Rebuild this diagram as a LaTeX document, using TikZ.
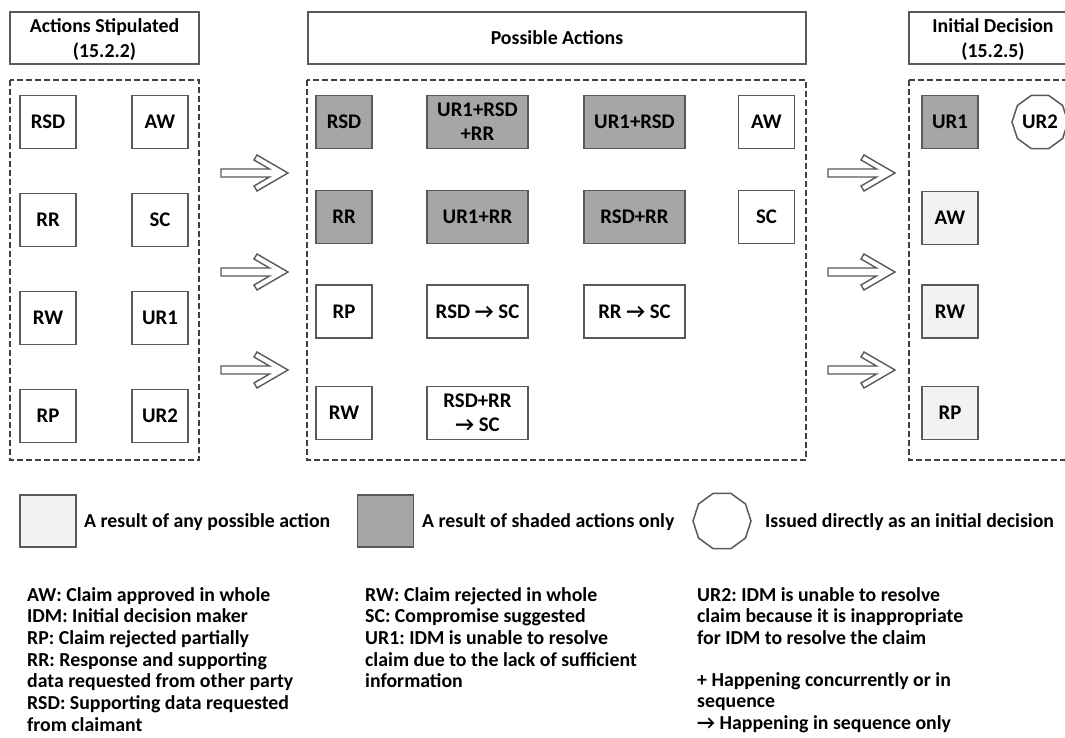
\documentclass[tikz,border=0pt]{standalone}
\usepackage{fontspec}
\setmainfont{Carlito}
\frenchspacing
\usetikzlibrary{shapes.geometric}
\definecolor{edge}{HTML}{595959}
\definecolor{dashc}{HTML}{404040}
\definecolor{shade}{HTML}{A6A6A6}
\definecolor{pale}{HTML}{F2F2F2}
\tikzset{
  lbl/.style={font=\fontsize{20.8}{24}\selectfont\bfseries, align=center, text=black},
  box/.style={lbl, draw=edge, line width=1.5pt, fill=white, minimum width=56pt, minimum height=53pt, inner sep=0pt},
  widebox/.style={box, minimum width=101pt},
  shaded/.style={fill=shade},
  palebox/.style={fill=pale},
  deca/.style={lbl, regular polygon, regular polygon sides=10, draw=edge, line width=1.5pt, fill=white, inner sep=0pt},
  header/.style={lbl, font=\fontsize{19.8}{24.5}\selectfont\bfseries, draw=edge, line width=1.5pt, minimum height=52pt, inner sep=0pt},
  frame/.style={draw=dashc, line width=2pt, dash pattern=on 6pt off 3pt},
  defn/.style={font=\fontsize{19.8}{21.7}\selectfont\bfseries, anchor=base west, inner sep=0pt},
  arrowbody/.style={draw=edge, line width=1.4pt, fill=white, line join=miter},
  blockarrow/.pic={\path[arrowbody] (0,0) -- (-31,-18) -- (-34,-13) -- (-18.5,-4) -- (-67,-4)
     -- (-67,4) -- (-18.5,4) -- (-34,13) -- (-31,18) -- cycle;}
}
\begin{document}
\begin{tikzpicture}[x=1pt,y=-1pt]
\useasboundingbox (0,0) rectangle (1065,738);
\clip (0,0) rectangle (1065,738);

% column headers
\node[header, minimum width=189pt] (hstip) at (104.5,38) {};
\node[lbl, font=\fontsize{19.8}{24.5}\selectfont\bfseries] (hstipT) at (104.5,39.5) {Actions Stipulated\\(15.2.2)};
\node[header, minimum width=498pt] (hposs) at (557,38) {Possible Actions};
\node[header, minimum width=168pt] (hinit) at (993,38) {};
\node[lbl, font=\fontsize{19.8}{24.5}\selectfont\bfseries] (hinitT) at (993,39.5) {Initial Decision\\(15.2.5)};

% dashed groups
\draw[frame] (10,80) rectangle (199,460);
\draw[frame] (307,80) rectangle (806,460);
\draw[frame] (909,80) rectangle (1090,460);

% stipulated actions
\node[box] (sRSD) at (48,122) {RSD};
\node[box] (sAW)  at (160,122) {AW};
\node[box] (sRR)  at (48,220) {RR};
\node[box] (sSC)  at (160,220) {SC};
\node[box] (sRW)  at (48,318) {RW};
\node[box] (sUR1) at (160,318) {UR1};
\node[box] (sRP)  at (48,416) {RP};
\node[box] (sUR2) at (160,416) {UR2};

% possible actions
\node[box, shaded] (pRSD) at (344,122) {RSD};
\node[widebox, shaded] (pA) at (477.5,122) {UR1+RSD\\+RR};
\node[widebox, shaded] (pB) at (634.5,122) {UR1+RSD};
\node[box] (pAW) at (766.5,122) {AW};
\node[box, shaded] (pRR) at (344,217) {RR};
\node[widebox, shaded] (pC) at (477.5,217) {UR1+RR};
\node[widebox, shaded] (pD) at (634.5,217) {RSD+RR};
\node[box] (pSC) at (766.5,217) {SC};
\node[box] (pRP) at (344,311.5) {RP};
\node[widebox] (pE) at (477.5,311.5) {RSD → SC};
\node[widebox] (pF) at (634.5,311.5) {RR → SC};
\node[box] (pRW) at (344,413) {RW};
\node[widebox] (pG) at (477.5,413) {RSD+RR\\→ SC};

% initial decisions
\node[box, shaded] (dUR1) at (950,122) {UR1};
\node[deca, minimum size=56pt] (dUR2) at (1040,122) {UR2};
\node[box, palebox] (dAW) at (950,218) {AW};
\node[box, palebox] (dRW) at (950,311.5) {RW};
\node[box, palebox] (dRP) at (950,413) {RP};

% flow arrows
\foreach \yy/\nm in {173/a,272/b,370/c}{
  \coordinate (la\nm) at (288,\yy);
  \coordinate (ra\nm) at (895,\yy);
  \pic at (la\nm) {blockarrow};
  \pic at (ra\nm) {blockarrow};
}

% legend
\node[box, palebox, minimum height=52pt] (kPale) at (48,521) {};
\node[defn] (kPaleT) at (84,527) {A result of any possible action};
\node[box, shaded, minimum height=52pt] (kShade) at (385.5,521) {};
\node[defn] (kShadeT) at (422,527) {A result of shaded actions only};
\node[deca, minimum size=58pt] (kDeca) at (722,521) {};
\node[defn] (kDecaT) at (765,527) {Issued directly as an initial decision};

% abbreviations
\foreach \t [count=\i from 0] in {AW: Claim approved in whole, IDM: Initial decision maker,
   RP: Claim rejected partially, RR: Response and supporting,
   data requested from other party, RSD: Supporting data requested, from claimant}
  \node[defn] (ga\i) at (27,601+21.7*\i) {\t};
\foreach \t [count=\i from 0] in {RW: Claim rejected in whole, SC: Compromise suggested,
   UR1: IDM is unable to resolve, claim due to the lack of sufficient, information}
  \node[defn] (gb\i) at (365,601+21.7*\i) {\t};
\foreach \t [count=\i from 0] in {UR2: IDM is unable to resolve,
   claim because it is inappropriate, for IDM to resolve the claim}
  \node[defn] (gc\i) at (697,601+21.7*\i) {\t};
\foreach \t [count=\i from 0] in {+ Happening concurrently or in, sequence,
   → Happening in sequence only}
  \node[defn] (gd\i) at (697,686+21.7*\i) {\t};
\end{tikzpicture}
\end{document}
